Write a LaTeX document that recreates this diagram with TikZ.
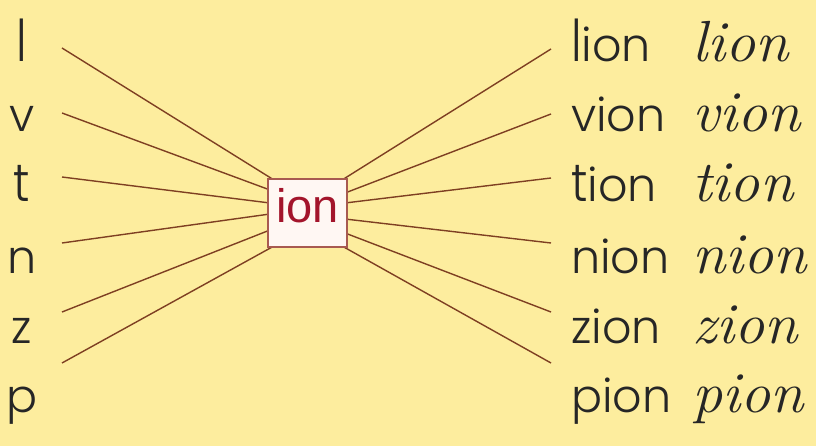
\documentclass[tikz,border=0pt]{standalone}
\usepackage{fontspec}
\setmainfont{Liberation Sans}
\newfontfamily\printfont{Poppins}[UprightFont=* Light]
\newfontfamily\cursfam{Latin Modern Roman}
\newcommand{\cursfont}{\cursfam\itshape}
\definecolor{bgyellow}{HTML}{FDED9E}
\definecolor{linebrown}{HTML}{7E3F22}
\definecolor{boxborder}{HTML}{A85A50}
\definecolor{boxfill}{HTML}{FFF7F3}
\definecolor{ionred}{HTML}{A3142B}
\definecolor{ink}{HTML}{262626}
\tikzset{
  letter/.style={anchor=base, inner sep=0pt, text=ink, font=\printfont\fontsize{46}{46}\selectfont},
  word/.style={anchor=base west, inner sep=0pt, text=ink, font=\printfont\fontsize{46}{46}\selectfont},
  cursive/.style={anchor=base west, inner sep=0pt, text=ink, font=\cursfont\fontsize{58}{58}\selectfont},
  ray/.style={draw=linebrown, line width=1.4pt},
  ionbox/.style={draw=boxborder, fill=boxfill, line width=1.2pt, minimum width=79pt, minimum height=68pt, inner sep=0pt}
}
\begin{document}
\begin{tikzpicture}[x=1pt,y=-1pt]
\fill[bgyellow] (0,0) rectangle (816,446);
\useasboundingbox (0,0) rectangle (816,446);
% left letters
\node[letter] (l) at (22,62) {\scalebox{1}[1.25]{l}};
\node[letter] (v) at (22,132) {v};
\node[letter] (t) at (22,202) {\scalebox{1}[1.15]{t}};
\node[letter] (n) at (22,273) {n};
\node[letter] (z) at (22,343) {z};
\node[letter] (p) at (22,412) {p};
% right words
\node[word] (wl) at (571,62) {\scalebox{1}[1.25]{l}ion};
\node[word] (wv) at (571,132) {vion};
\node[word] (wt) at (571,202) {\scalebox{1}[1.15]{t}ion};
\node[word] (wn) at (571,273) {nion};
\node[word] (wz) at (571,343) {zion};
\node[word] (wp) at (571,412) {pion};
% cursive words
\node[cursive] (cl) at (692,62) {\scalebox{1.04}[1]{lion}};
\node[cursive] (cv) at (692,132) {\scalebox{1.04}[1]{vion}};
\node[cursive] (ct) at (692,202) {\scalebox{1.04}[1]{tion}};
\node[cursive] (cn) at (692,273) {\scalebox{1.04}[1]{nion}};
\node[cursive] (cz) at (692,343) {\scalebox{1.04}[1]{zion}};
\node[cursive] (cp) at (692,412) {\scalebox{1.04}[1]{pion}};
% line end coordinates
\coordinate (a1) at (62,48);
\coordinate (a2) at (62,113);
\coordinate (a3) at (62,177);
\coordinate (a4) at (62,243);
\coordinate (a5) at (62,312);
\coordinate (a6) at (62,363);
\coordinate (b1) at (274,180);
\coordinate (b2) at (270,190);
\coordinate (b3) at (270,203);
\coordinate (b4) at (270,214);
\coordinate (b5) at (270,230);
\coordinate (b6) at (274,246);
\coordinate (c1) at (342,180);
\coordinate (c2) at (345,193);
\coordinate (c3) at (345,203);
\coordinate (c4) at (345,219);
\coordinate (c5) at (345,233);
\coordinate (c6) at (342,246);
\coordinate (d1) at (551,49);
\coordinate (d2) at (551,114);
\coordinate (d3) at (551,178);
\coordinate (d4) at (551,243);
\coordinate (d5) at (551,312);
\coordinate (d6) at (551,363);
\foreach \i in {1,...,6} {
  \draw[ray] (a\i) -- (b\i);
  \draw[ray] (c\i) -- (d\i);
}
% central box
\node[ionbox] (ion) at (307.5,213) {};
\node[anchor=base, inner sep=0pt, text=ionred, font=\fontsize{47}{47}\selectfont] (iontext) at (307.5,223) {ion};
\end{tikzpicture}
\end{document}
